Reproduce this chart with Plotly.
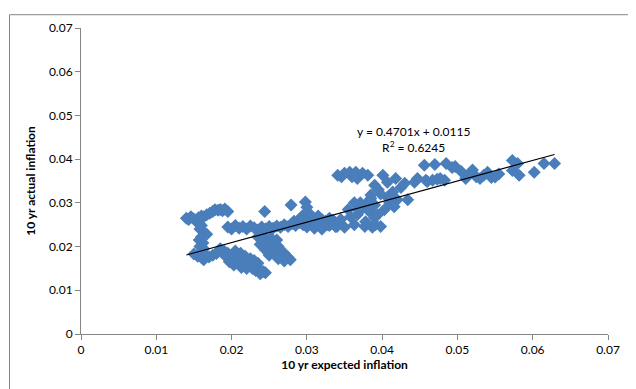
import plotly.graph_objects as go

# ---- data ----
expected = [
    # left top row
    0.0140, 0.0143, 0.0146, 0.0150, 0.0153, 0.0156, 0.0160, 0.0163, 0.0167, 0.0171, 0.0175, 0.0178, 0.0182, 0.0185, 0.0188, 0.0191, 0.0195,
    # left column
    0.0155, 0.0160, 0.0158, 0.0163, 0.0167, 0.0160, 0.0157, 0.0162, 0.0158, 0.0163, 0.0160,
    # bottom-left row
    0.0150, 0.0155, 0.0160, 0.0165, 0.0170, 0.0175, 0.0180, 0.0163,
    # diagonal low cluster
    0.0185, 0.0190, 0.0195, 0.0192, 0.0200, 0.0205, 0.0200, 0.0208, 0.0212, 0.0215, 0.0210, 0.0218, 0.0222, 0.0225, 0.0220,
    0.0228, 0.0232, 0.0236, 0.0238, 0.0242, 0.0197, 0.0203, 0.0213, 0.0205, 0.0212, 0.0218, 0.0225, 0.0230, 0.0235, 0.0245,
    # middle band
    0.0195, 0.0200, 0.0205, 0.0210, 0.0215, 0.0220, 0.0225, 0.0230, 0.0235, 0.0240, 0.0245, 0.0250, 0.0255, 0.0260, 0.0265,
    0.0270, 0.0275, 0.0280, 0.0285, 0.0290, 0.0295, 0.0300, 0.0305, 0.0310, 0.0315, 0.0320, 0.0325, 0.0330, 0.0335, 0.0340,
    0.0290, 0.0300, 0.0310, 0.0320, 0.0330, 0.0300, 0.0310, 0.0320,
    0.0283, 0.0295, 0.0305, 0.0315, 0.0325, 0.0335, 0.0345,
    # cluster under band
    0.0240, 0.0245, 0.0250, 0.0248, 0.0255, 0.0258, 0.0262, 0.0265, 0.0270, 0.0268, 0.0275, 0.0278, 0.0252, 0.0260, 0.0242,
    0.0255, 0.0250, 0.0262, 0.0270, 0.0245, 0.0238, 0.0235,
    # isolated higher points
    0.0244, 0.0279, 0.0298, 0.0300, 0.0302, 0.0294,
    # upper arc
    0.0341, 0.0350, 0.0357, 0.0365, 0.0374, 0.0381, 0.0367, 0.0346, 0.0360,
    # cluster 0.037-0.045
    0.0401, 0.0390, 0.0407, 0.0418, 0.0430, 0.0443, 0.0414, 0.0407, 0.0420, 0.0434, 0.0416, 0.0403, 0.0394, 0.0395, 0.0425,
    0.0398, 0.0410, 0.0385, 0.0375,
    # lower group around 0.035-0.040
    0.0363, 0.0371, 0.0381, 0.0390, 0.0383, 0.0390, 0.0378, 0.0367, 0.0358, 0.0391, 0.0387, 0.0377, 0.0363, 0.0350, 0.0338,
    0.0328, 0.0314, 0.0398, 0.0372, 0.0385, 0.0355, 0.0368,
    # upper right
    0.0456, 0.0470, 0.0485, 0.0497, 0.0447, 0.0460, 0.0473, 0.0483, 0.0505, 0.0515, 0.0525, 0.0535, 0.0545, 0.0555, 0.0520,
    0.0540, 0.0493, 0.0511, 0.0530, 0.0550, 0.0573, 0.0580, 0.0573, 0.0582, 0.0602, 0.0615, 0.0629, 0.0458, 0.0467, 0.0477,
]
actual = [
    0.0265, 0.0262, 0.0268, 0.0263, 0.0258, 0.0266, 0.0270, 0.0268, 0.0273, 0.0276, 0.0280, 0.0284, 0.0283, 0.0285, 0.0282, 0.0286, 0.0280,
    0.0255, 0.0248, 0.0240, 0.0233, 0.0228, 0.0222, 0.0215, 0.0208, 0.0200, 0.0195, 0.0188,
    0.0183, 0.0178, 0.0175, 0.0180, 0.0176, 0.0180, 0.0184, 0.0170,
    0.0195, 0.0190, 0.0185, 0.0178, 0.0180, 0.0175, 0.0170, 0.0168, 0.0172, 0.0165, 0.0160, 0.0158, 0.0162, 0.0155, 0.0150,
    0.0150, 0.0145, 0.0148, 0.0138, 0.0143, 0.0165, 0.0158, 0.0152, 0.0190, 0.0185, 0.0178, 0.0172, 0.0168, 0.0162, 0.0140,
    0.0245, 0.0240, 0.0248, 0.0242, 0.0246, 0.0240, 0.0247, 0.0243, 0.0238, 0.0245, 0.0240, 0.0246, 0.0242, 0.0247, 0.0244,
    0.0250, 0.0246, 0.0252, 0.0248, 0.0255, 0.0250, 0.0256, 0.0252, 0.0258, 0.0253, 0.0250, 0.0255, 0.0248, 0.0252, 0.0246,
    0.0262, 0.0268, 0.0264, 0.0262, 0.0265, 0.0245, 0.0242, 0.0240,
    0.0258, 0.0270, 0.0262, 0.0270, 0.0258, 0.0260, 0.0262,
    0.0215, 0.0208, 0.0212, 0.0200, 0.0205, 0.0195, 0.0200, 0.0190, 0.0185, 0.0178, 0.0175, 0.0170, 0.0220, 0.0215, 0.0225,
    0.0188, 0.0180, 0.0172, 0.0167, 0.0192, 0.0205, 0.0222,
    0.0280, 0.0295, 0.0302, 0.0290, 0.0278, 0.0270,
    0.0363, 0.0368, 0.0370, 0.0370, 0.0368, 0.0363, 0.0356, 0.0360, 0.0360,
    0.0363, 0.0340, 0.0347, 0.0356, 0.0345, 0.0347, 0.0325, 0.0313, 0.0307, 0.0307, 0.0291, 0.0284, 0.0273, 0.0330, 0.0335,
    0.0320, 0.0300, 0.0310, 0.0290,
    0.0300, 0.0300, 0.0302, 0.0295, 0.0280, 0.0266, 0.0257, 0.0273, 0.0268, 0.0250, 0.0244, 0.0246, 0.0250, 0.0244, 0.0246,
    0.0250, 0.0257, 0.0246, 0.0285, 0.0318, 0.0285, 0.0285,
    0.0386, 0.0388, 0.0390, 0.0383, 0.0356, 0.0349, 0.0354, 0.0352, 0.0372, 0.0365, 0.0360, 0.0363, 0.0358, 0.0366, 0.0375,
    0.0370, 0.0381, 0.0356, 0.0356, 0.0359, 0.0397, 0.0390, 0.0374, 0.0363, 0.0370, 0.0390, 0.0390, 0.0352, 0.0352, 0.0356,
]
slope = 0.4701
intercept = 0.0115
r_squared = 0.6245
x_ticks = [0, 0.01, 0.02, 0.03, 0.04, 0.05, 0.06, 0.07]
y_ticks = [0, 0.01, 0.02, 0.03, 0.04, 0.05, 0.06, 0.07]
x_title = "10 yr expected inflation"
y_title = "10 yr actual inflation"

# ---- figure ----
W, H = 636, 389
ML, MR, MT, MB = 73, 36, 15, 63
FONT = "Lato, 'Open Sans', sans-serif"

x_min, x_max = min(expected), max(expected)
trend_x = [x_min, x_max]
trend_y = [slope * v + intercept for v in trend_x]

fig = go.Figure()
fig.add_trace(go.Scatter(
    x=expected, y=actual, mode="markers",
    marker=dict(symbol="diamond", size=10, color="#4A7EBB", line=dict(width=0)),
    showlegend=False, hoverinfo="skip",
))
fig.add_trace(go.Scatter(
    x=trend_x, y=trend_y, mode="lines",
    line=dict(color="black", width=1.2),
    showlegend=False, hoverinfo="skip",
))

axis_common = dict(
    showgrid=False, zeroline=False, showline=True, linecolor="#868686", linewidth=1,
    ticks="outside", ticklen=5, tickcolor="#868686",
    tickfont=dict(family=FONT, size=12, color="#000000"),
    fixedrange=True,
)
fig.update_xaxes(
    range=[0, 0.07], tickvals=x_ticks, ticktext=[f"{v:g}" for v in x_ticks],
    title=dict(text=f"<b>{x_title}</b>", font=dict(family=FONT, size=12, color="#000"), standoff=4),
    **axis_common,
)
fig.update_yaxes(
    range=[0, 0.07], tickvals=y_ticks, ticktext=[f"{v:g}" for v in y_ticks],
    title=dict(text=f"<b>{y_title}</b>", font=dict(family=FONT, size=12, color="#000"), standoff=10),
    **axis_common,
)

pw, ph = W - ML - MR, H - MT - MB
fig.add_shape(
    type="rect", xref="paper", yref="paper",
    x0=(1.5 - ML) / pw, x1=(W - 2.5 - ML) / pw,
    y0=-(H - 2.5 - MT - ph) / ph, y1=(MT - 1.5) / ph + 1,
    line=dict(color="#868686", width=1), fillcolor="rgba(0,0,0,0)", layer="below",
)

fig.add_annotation(
    x=0.0442, y=0.0446, xref="x", yref="y", showarrow=False,
    text=f"y = {slope:.4f}x + {intercept:.4f}<br>R<sup>2</sup> = {r_squared:.4f}",
    font=dict(family=FONT, size=12, color="#000"), align="center",
)

fig.update_layout(
    width=W, height=H,
    margin=dict(l=ML, r=MR, t=MT, b=MB),
    paper_bgcolor="white", plot_bgcolor="white",
)

fig.write_html("out.html")
